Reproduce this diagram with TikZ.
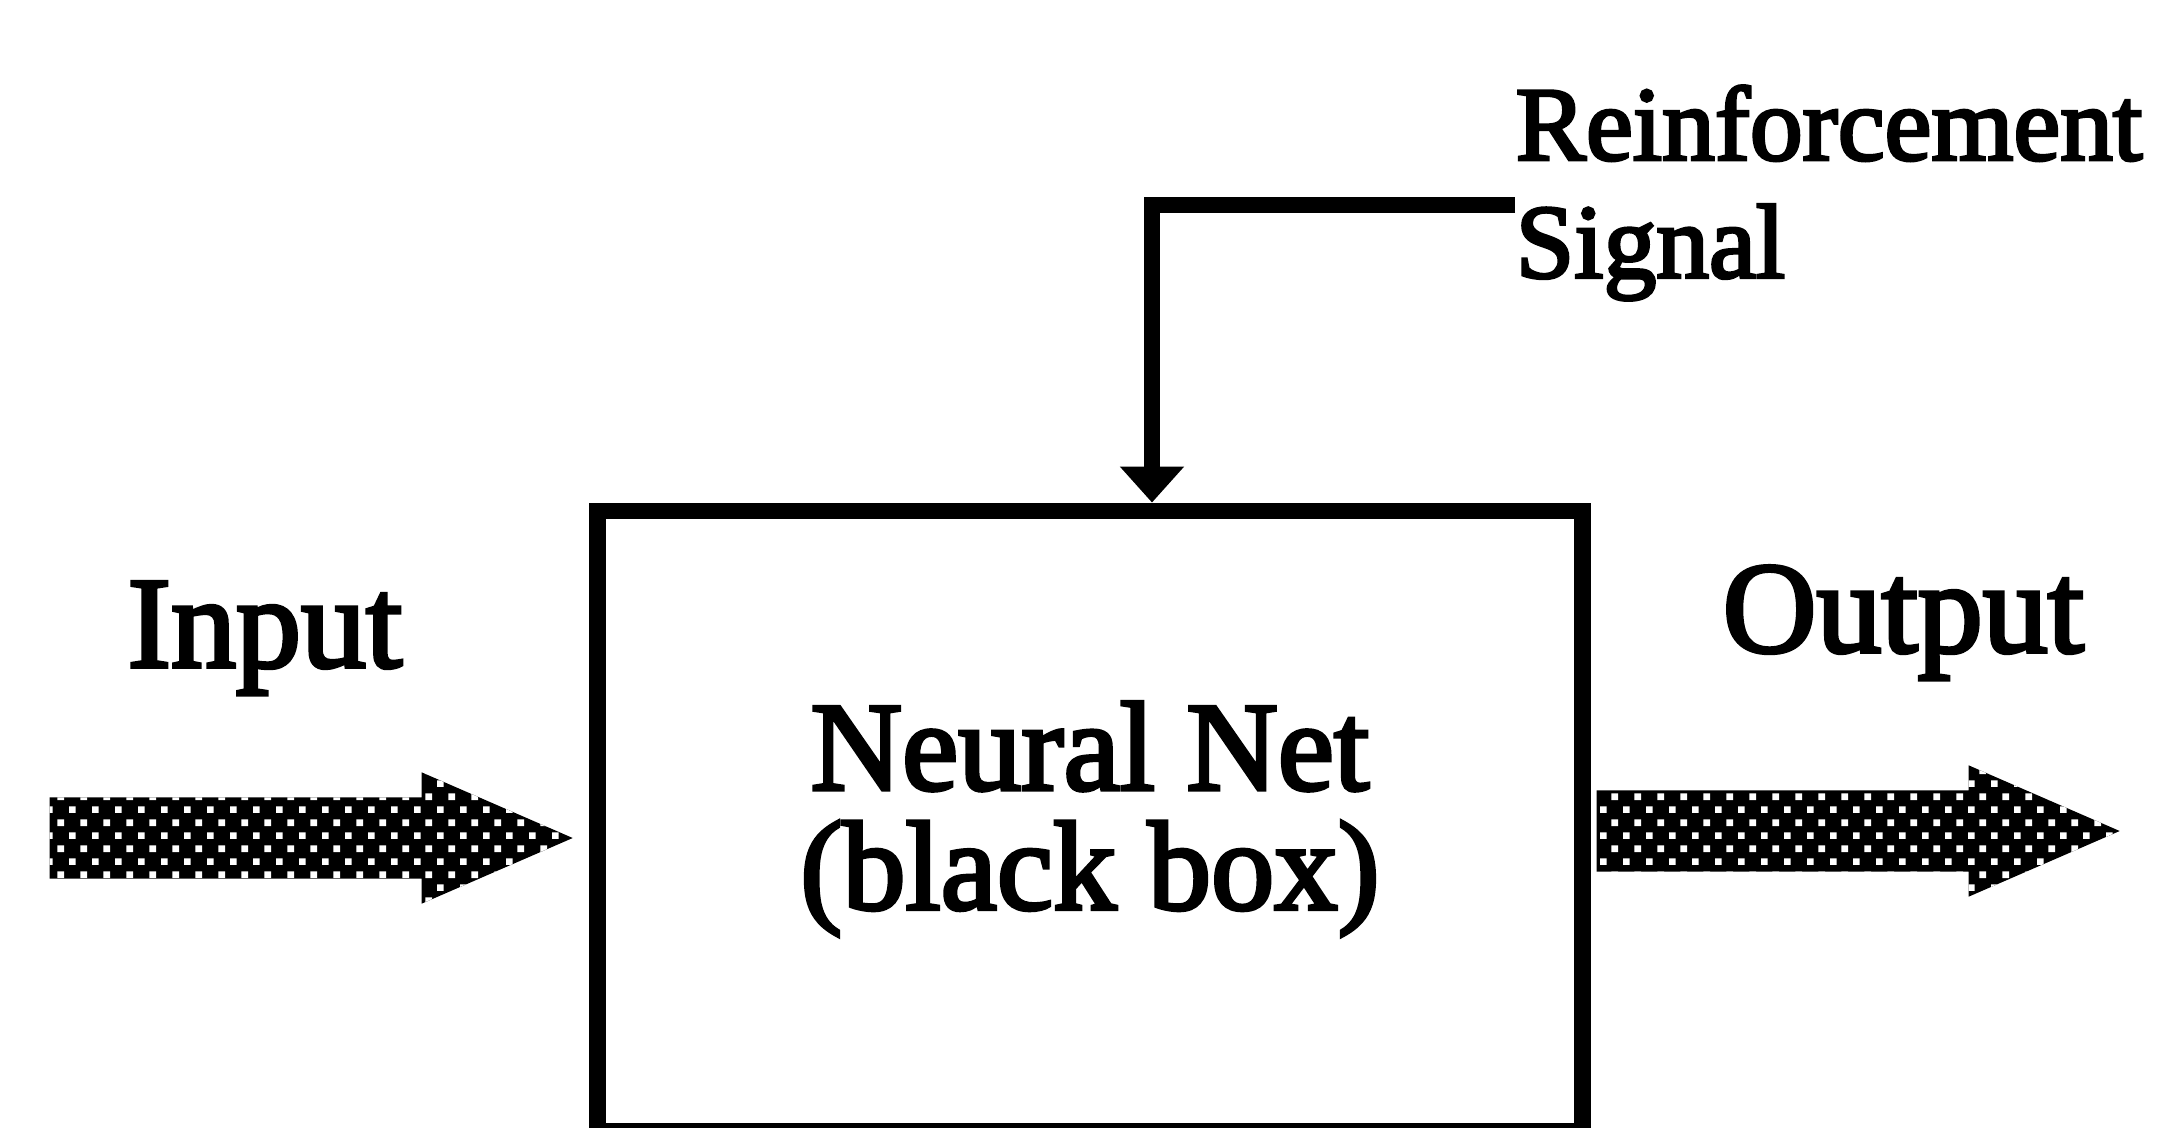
\documentclass[tikz,border=0pt]{standalone}
\usepackage{fontspec}
\setmainfont{Liberation Serif}[FakeBold=3]
\usetikzlibrary{arrows.meta,shapes.arrows,patterns}

\pgfdeclarepatternformonly{halftone}{\pgfpointorigin}{\pgfpoint{6.5pt}{7.5pt}}{\pgfpoint{6.5pt}{7.5pt}}{
	\pgfpathrectangle{\pgfpoint{0.3pt}{0.3pt}}{\pgfpoint{1.9pt}{1.9pt}}
	\pgfpathrectangle{\pgfpoint{3.55pt}{4.05pt}}{\pgfpoint{1.9pt}{1.9pt}}
	\pgfusepath{fill}}

\begin{document}
\begin{tikzpicture}[line join=miter,
		netbox/.style={draw, line width=4.8pt, minimum width=9.85cm, minimum height=6.2cm},
		netlabel/.style={align=center, font=\fontsize{36}{34}\selectfont},
		biglabel/.style={inner sep=0pt, font=\fontsize{37}{40}\selectfont},
		siglabel/.style={inner sep=0pt, align=left, font=\fontsize{30}{33.5}\selectfont},
		feedback/.style={line width=4.8pt, -{Triangle[length=0.36cm, width=0.62cm]}},
		bigarrow/.style={single arrow, anchor=tail, single arrow head extend=0.25cm, single arrow tip angle=47,
			minimum height=5.23cm, minimum width=1.3cm, inner sep=0.4cm, fill=black,
			postaction={pattern=halftone, pattern color=white}}]
	\useasboundingbox (0,0) rectangle (21.75,-11.28);
	
	\node[netbox] (net) at (10.90,-8.21) {};
	\node[netlabel] (netlabel) at ([yshift=0.02cm]net.center) {Neural Net\\(black box)};
	
	\node[biglabel, anchor=base west] (inlabel) at (1.27,-6.67) {Input};
	\node[biglabel, anchor=base west] (outlabel) at (17.22,-6.52) {Output};
	
	\node[bigarrow] (inarrow) at (0.49,-8.38) {};
	\node[bigarrow] (outarrow) at (15.96,-8.31) {};
	
	\node[siglabel, anchor=west] (sig) at (15.15,-1.93) {Reinforcement\\Signal};
	\coordinate (sigend) at ([yshift=-0.12cm]sig.west);
	\draw[feedback] (sigend) -| ([xshift=0.62cm]net.north);
	
\end{tikzpicture}
\end{document}
